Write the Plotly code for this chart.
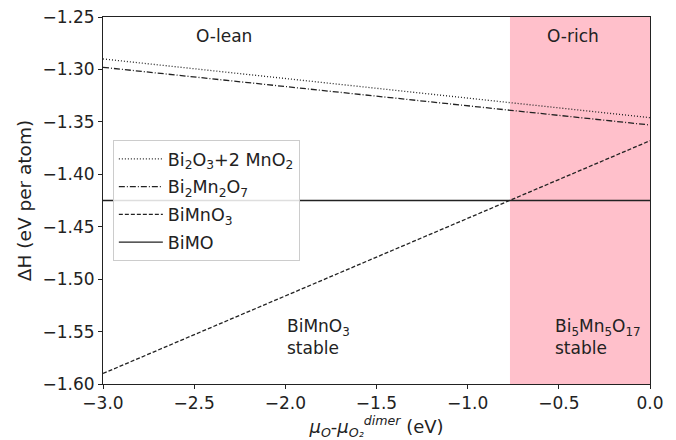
import plotly.graph_objects as go

x_vals = [-3.0, 0.0]
bi2o3_mno2 = [-1.290, -1.346]
bi2mn2o7 = [-1.298, -1.353]
bimno3 = [-1.590, -1.368]
bimo = [-1.425, -1.425]
o_rich_start = -0.768

series_names = ["Bi<sub>2</sub>O<sub>3</sub>+2 MnO<sub>2</sub>", "Bi<sub>2</sub>Mn<sub>2</sub>O<sub>7</sub>",
                "BiMnO<sub>3</sub>", "BiMO"]
series_vals = [bi2o3_mno2, bi2mn2o7, bimno3, bimo]
dashes = ["1px,2px", "6px,2px,1px,2px", "4px,2px", "solid"]

x_ticks = [-3.0, -2.5, -2.0, -1.5, -1.0, -0.5, 0.0]
x_ticklabels = ["−3.0", "−2.5", "−2.0", "−1.5", "−1.0", "−0.5", "0.0"]
y_ticks = [-1.25, -1.30, -1.35, -1.40, -1.45, -1.50, -1.55, -1.60]
y_ticklabels = ["−1.25", "−1.30", "−1.35", "−1.40", "−1.45", "−1.50", "−1.55", "−1.60"]

fig = go.Figure()
for i, (name, vals, d) in enumerate(zip(series_names, series_vals, dashes)):
    fig.add_trace(go.Scatter(x=x_vals, y=vals, mode="lines", name=name, legendgroup=f"g{i}",
                             line=dict(color="#222222", width=1.3, dash=d)))

fig.add_shape(type="rect", xref="x", yref="y", x0=o_rich_start, x1=0.0, y0=-1.60, y1=-1.25,
              fillcolor="pink", line=dict(width=0), layer="below")

ann_font = dict(family="DejaVu Sans", size=17, color="#222222")
fig.add_annotation(x=-2.5, y=-1.268, xref="x", yref="y", text="O-lean", showarrow=False,
                   xanchor="left", yanchor="middle", font=ann_font)
fig.add_annotation(x=-0.576, y=-1.268, xref="x", yref="y", text="O-rich", showarrow=False,
                   xanchor="left", yanchor="middle", font=ann_font)
fig.add_annotation(x=-2.0, y=-1.533, xref="x", yref="y", text="BiMnO<sub>3</sub><br>stable",
                   showarrow=False, xanchor="left", yanchor="top", align="left", font=ann_font)
fig.add_annotation(x=-0.532, y=-1.533, xref="x", yref="y",
                   text="Bi<sub>5</sub>Mn<sub>5</sub>O<sub>17</sub><br>stable",
                   showarrow=False, xanchor="left", yanchor="top", align="left", font=ann_font)

axis_common = dict(showline=True, linecolor="#222222", linewidth=1, mirror=True,
                   ticks="outside", ticklen=4, tickcolor="#222222", showgrid=False,
                   zeroline=False, automargin=False,
                   tickfont=dict(family="DejaVu Sans", size=17, color="#222222"))

fig.update_xaxes(range=[-3.0, 0.0], tickvals=x_ticks, ticktext=x_ticklabels,
                 title=dict(text="<i>μ<sub>O</sub></i>-<i>μ<sub>O₂</sub><sup>dimer</sup></i> (eV)",
                            font=dict(family="DejaVu Sans", size=18, color="#222222"), standoff=2),
                 **axis_common)
fig.update_yaxes(range=[-1.60, -1.25], tickvals=y_ticks, ticktext=y_ticklabels,
                 title=dict(text="ΔH (eV per atom)",
                            font=dict(family="DejaVu Sans", size=18.5, color="#222222"), standoff=6),
                 **axis_common)

fig.update_layout(
    width=676, height=440,
    margin=dict(l=103, r=26, t=17, b=56, autoexpand=False),
    plot_bgcolor="white", paper_bgcolor="white",
    font=dict(family="DejaVu Sans", color="#222222"),
    legend=dict(x=0.018, y=0.665, xanchor="left", yanchor="top",
                bgcolor="rgba(255,255,255,0.85)", bordercolor="#cccccc", borderwidth=1,
                font=dict(family="DejaVu Sans", size=17.5, color="#222222"),
                itemwidth=44, tracegroupgap=2),
    showlegend=True,
)

fig.write_html("out.html", config={"displayModeBar": False},
               post_script="document.body.style.margin='0';")
